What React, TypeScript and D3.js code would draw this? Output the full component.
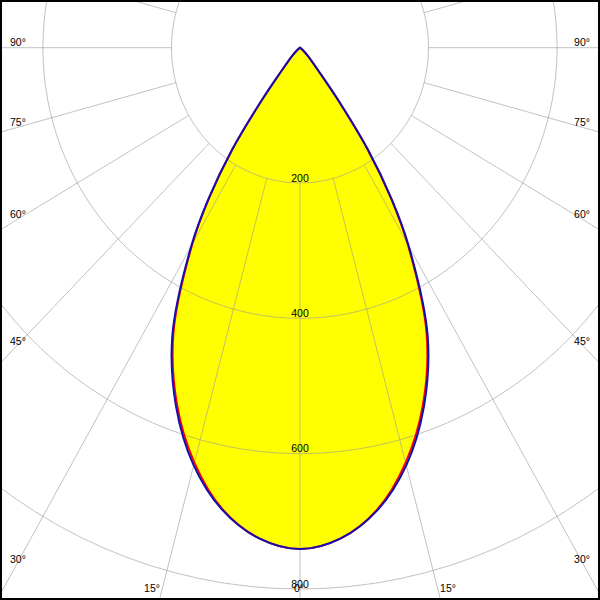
import React from "react";
import * as d3 from "d3";

// Polar angles (degrees from nadir) and luminous intensities (cd)
const angles = [0, 5, 10, 15, 20, 25, 30, 32.5, 35, 37.5, 40, 45, 50, 55, 60, 70, 80, 90];
const intensityC0 = [741, 728, 693, 635, 560, 466, 335, 263, 184, 96, 45, 18, 6, 2, 0, 0, 0, 0];
const intensityC90 = [741, 728, 694, 639, 564, 470, 338, 265, 185, 97, 45, 18, 6, 2, 0, 0, 0, 0];

const ringValues = [200, 400, 600, 800];
const ringLabels = ["200", "400", "600", "800"];
const radialAngles = [-105, -90, -75, -60, -45, -30, -15, 0, 15, 30, 45, 60, 75, 90, 105];
const sideLabelAngles = [90, 75, 60, 45, 30];
const bottomLabelAngles = [15];

const W = 600;
const H = 600;
const cx = 300;
const cy = 47.7;
const sx = 0.95;
const FONT = "'Liberation Sans', Arial, sans-serif";

export default function App() {
  const r = d3.scaleLinear().domain([0, 800]).range([0, 541.3]);
  const rad = (a: number) => (a * Math.PI) / 180;
  const pt = (a: number, v: number): [number, number] => [
    cx + sx * r(v) * Math.sin(rad(a)),
    cy + r(v) * Math.cos(rad(a)),
  ];

  const buildPts = (vals: number[]) => {
    const left = angles.map((a, i) => pt(-a, vals[i])).reverse();
    const right = angles.slice(1).map((a, i) => pt(a, vals[i + 1]));
    return left.concat(right);
  };

  const line = d3.line<[number, number]>().curve(d3.curveCatmullRom.alpha(0.5));
  const pathC0 = line(buildPts(intensityC0)) + "Z";
  const pathC90 = line(buildPts(intensityC90)) + "Z";

  const rayYAtX = (a: number, x: number) => {
    const dx = Math.abs(cx - x);
    const t = dx / (sx * Math.sin(rad(a)));
    return cy + t * Math.cos(rad(a));
  };
  const rayXAtY = (a: number, y: number) => {
    const t = (y - cy) / Math.cos(rad(a));
    return sx * t * Math.sin(rad(a));
  };

  const gridStroke = "#999";
  const gridOpacity = 0.6;

  return (
    <svg
      width={W}
      height={H}
      style={{ position: "absolute", left: 0, top: 0, display: "block", background: "#fff" }}
    >
      <rect x={0} y={0} width={W} height={H} fill="#fff" />
      <path d={pathC90} fill="#ffff00" stroke="none" />
      <g stroke={gridStroke} strokeOpacity={gridOpacity} fill="none" strokeWidth={1}>
        {ringValues.map((v) => (
          <ellipse key={v} cx={cx} cy={cy} rx={sx * r(v)} ry={r(v)} />
        ))}
        {radialAngles.map((a) => {
          const [x1, y1] = pt(a, 200);
          const [x2, y2] = pt(a, 1600);
          return <line key={a} x1={x1} y1={y1} x2={x2} y2={y2} />;
        })}
      </g>
      <path d={pathC0} fill="none" stroke="#ff0000" strokeWidth={2} />
      <path d={pathC90} fill="none" stroke="#1010b0" strokeWidth={2} />
      <g fontFamily={FONT} fontSize={10.5} fill="#000">
        {ringValues.map((v, i) => (
          <text key={v} x={cx} y={cy + r(v) - 1.5} textAnchor="middle">
            {ringLabels[i]}
          </text>
        ))}
        {sideLabelAngles.map((a) => {
          const y = rayYAtX(a, 16) - 2;
          return (
            <React.Fragment key={a}>
              <text x={10} y={y}>{`${a}°`}</text>
              <text x={590} y={y} textAnchor="end">{`${a}°`}</text>
            </React.Fragment>
          );
        })}
        {bottomLabelAngles.map((a) => {
          const dx = rayXAtY(a, 594);
          return (
            <React.Fragment key={a}>
              <text x={cx - dx - 1} y={592} textAnchor="end">{`${a}°`}</text>
              <text x={cx + dx + 1} y={592}>{`${a}°`}</text>
            </React.Fragment>
          );
        })}
        <text x={cx - 1} y={592} textAnchor="middle">0°</text>
      </g>
      <rect x={1} y={1} width={W - 2} height={H - 2} fill="none" stroke="#000" strokeWidth={2} />
    </svg>
  );
}
